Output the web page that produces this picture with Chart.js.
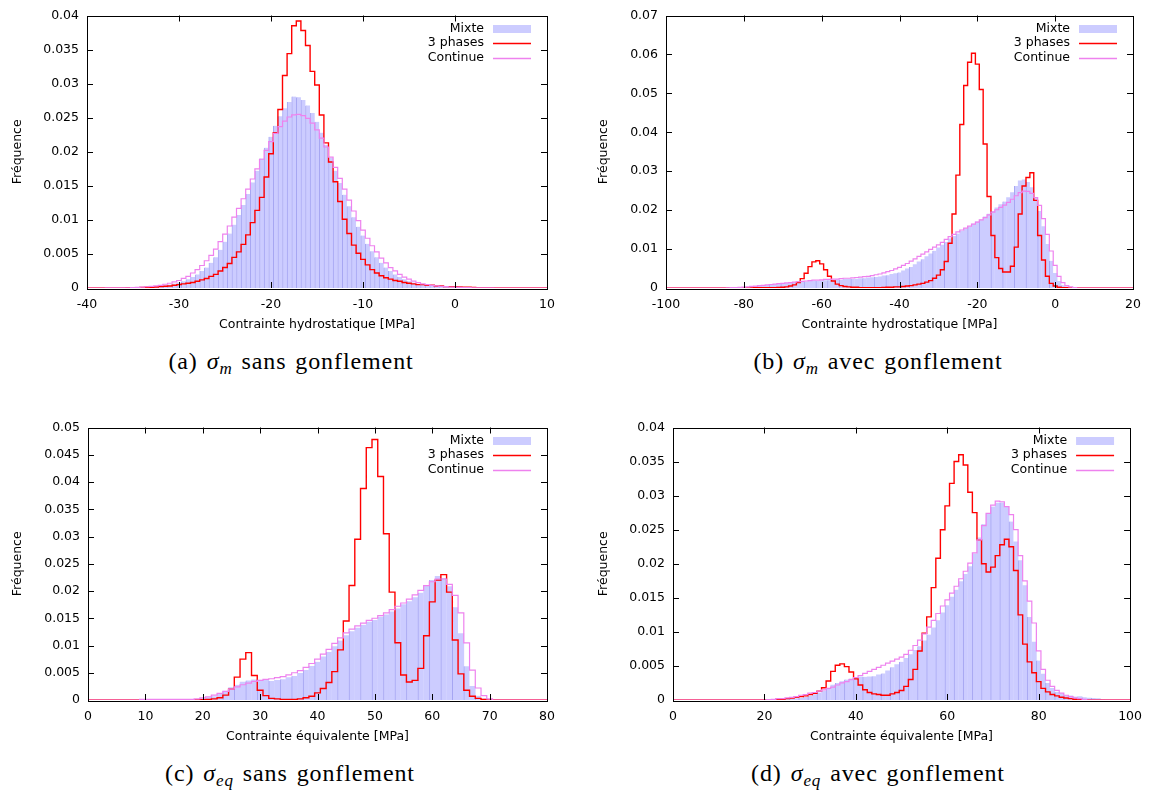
<!DOCTYPE html>
<html>
<head>
<meta charset="utf-8">
<script src="https://cdn.jsdelivr.net/npm/chart.js@4.4.1/dist/chart.umd.min.js"></script>
<style>
  body { margin: 0; background: #fff; width: 1151px; height: 793px; position: relative; overflow: hidden; }
  .panel { position: absolute; }
  .cap { position: absolute; text-align: center; font-family: "Liberation Serif", "Times New Roman", serif; font-size: 24px; letter-spacing: 0.9px; word-spacing: 2px; color: #000; white-space: nowrap; }
  .cap sub { font-size: 17px; vertical-align: -5px; line-height: 0; }
</style>
</head>
<body>
<div class="panel" style="left:0;top:0"><canvas id="chartA" width="575" height="340"></canvas></div>
<div class="panel" style="left:575px;top:0"><canvas id="chartB" width="576" height="340"></canvas></div>
<div class="panel" style="left:0;top:412px"><canvas id="chartC" width="575" height="340"></canvas></div>
<div class="panel" style="left:575px;top:412px"><canvas id="chartD" width="576" height="340"></canvas></div>

<div class="cap" style="left:0;width:582px;top:348px">(a) <i>σ<sub>m</sub></i> sans gonflement</div>
<div class="cap" style="left:578px;width:600px;top:348px">(b) <i>σ<sub>m</sub></i> avec gonflement</div>
<div class="cap" style="left:0;width:580px;top:760px">(c) <i>σ<sub>eq</sub></i> sans gonflement</div>
<div class="cap" style="left:578px;width:600px;top:760px">(d) <i>σ<sub>eq</sub></i> avec gonflement</div>

<script>
// series names and axis titles
const seriesLabels = ['Mixte', '3 phases', 'Continue'];
const yTitle = 'Fréquence';
const xTitleHydro = 'Contrainte hydrostatique [MPa]';
const xTitleEq = 'Contrainte équivalente [MPa]';

// axes: [min, max, step]
const aXAxis = [-40, 10, 10], aYAxis = [0, 0.04, 0.005];
const bXAxis = [-100, 20, 20], bYAxis = [0, 0.07, 0.01];
const cXAxis = [0, 80, 10], cYAxis = [0, 0.05, 0.005];
const dXAxis = [0, 100, 20], dYAxis = [0, 0.04, 0.005];

// (a) sigma_m sans gonflement : bins from -36 MPa, 0.5 MPa wide
const aStart = -36, aBin = 0.5;
const aMixte = [
  0.00002, 0.00003, 0.00004, 0.00007, 0.0001, 0.00015, 0.0002, 0.00025, 0.0003, 0.0004,
  0.0005, 0.00065, 0.0008, 0.001, 0.0013, 0.0016, 0.002, 0.0025, 0.003, 0.0037,
  0.0045, 0.0056, 0.0068, 0.008, 0.0093, 0.0107, 0.0122, 0.0138, 0.0155, 0.0172,
  0.019, 0.0206, 0.0222, 0.0238, 0.0252, 0.0264, 0.0273, 0.0281, 0.028, 0.0276,
  0.0268, 0.0257, 0.0244, 0.0228, 0.021, 0.0191, 0.0172, 0.0154, 0.0137, 0.012,
  0.0104, 0.009, 0.0077, 0.0065, 0.0054, 0.0045, 0.0037, 0.003, 0.0025, 0.002,
  0.0016, 0.0013, 0.001, 0.0008, 0.0006, 0.0005, 0.0004, 0.0003, 0.0003, 0.0002,
  0.0002, 0.00015, 0.0001, 0.00008, 0.00006, 0.00004, 0.00003, 0.00002, 0.00001, 0,
  0, 0, 0
];
const aPhases = [
  0.00002, 0.00003, 0.00004, 0.00005, 0.00007, 0.0001, 0.00012, 0.00015, 0.0002, 0.00025,
  0.0003, 0.0004, 0.0005, 0.0006, 0.0007, 0.0008, 0.001, 0.0012, 0.0014, 0.0017,
  0.002, 0.0025, 0.003, 0.0036, 0.0045, 0.0053, 0.0064, 0.0078, 0.0096, 0.0114,
  0.0133, 0.0163, 0.0197, 0.0228, 0.0262, 0.0312, 0.0344, 0.0385, 0.0392, 0.0378,
  0.0356, 0.0318, 0.0298, 0.0254, 0.0213, 0.0185, 0.0156, 0.0127, 0.0101, 0.008,
  0.0063, 0.0051, 0.0042, 0.0034, 0.0027, 0.0022, 0.0018, 0.0015, 0.0013, 0.0011,
  0.001, 0.0008, 0.0007, 0.0006, 0.0005, 0.0005, 0.0004, 0.0004, 0.0003, 0.0003,
  0.0002, 0.0002, 0.0002, 0.00015, 0.00012, 0.0001, 0.00008, 0.00006, 0.00005, 0.00004,
  0.00003, 0.00002, 0.00001
];
const aContinue = [
  0.00003, 0.00004, 0.00006, 0.00009, 0.00012, 0.00018, 0.00025, 0.0003, 0.0004, 0.00055,
  0.0007, 0.0009, 0.0011, 0.0014, 0.0017, 0.0022, 0.0027, 0.0033, 0.004, 0.0048,
  0.0057, 0.0068, 0.0079, 0.0091, 0.0104, 0.0117, 0.0131, 0.0145, 0.016, 0.0175,
  0.0189, 0.0202, 0.0215, 0.0227, 0.0237, 0.0245, 0.0251, 0.0254, 0.0255, 0.0253,
  0.0249, 0.0242, 0.0232, 0.022, 0.0207, 0.0192, 0.0177, 0.0161, 0.0145, 0.0129,
  0.0113, 0.0099, 0.0085, 0.0073, 0.0062, 0.0053, 0.0044, 0.0037, 0.003, 0.0025,
  0.002, 0.0016, 0.0013, 0.001, 0.0008, 0.0006, 0.0005, 0.0004, 0.0003, 0.00025,
  0.0002, 0.00015, 0.00012, 0.0001, 0.00007, 0.00005, 0.00004, 0.00003, 0.00002, 0.00001,
  0.00001, 0, 0
];

// (b) sigma_m avec gonflement : bins from -85 MPa, 1 MPa wide
const bStart = -85, bBin = 1;
const bMixte = [
  0, 0, 0, 0.00005, 0.0001, 0.0001, 0.0002, 0.0003, 0.0004, 0.0005,
  0.0006, 0.0007, 0.0008, 0.0009, 0.001, 0.0011, 0.0012, 0.0013, 0.0014, 0.0015,
  0.0016, 0.0017, 0.0017, 0.0018, 0.0018, 0.0019, 0.0019, 0.002, 0.002, 0.0021,
  0.0021, 0.0022, 0.0022, 0.0023, 0.0023, 0.0024, 0.0025, 0.0026, 0.0027, 0.0028,
  0.0029, 0.0031, 0.0033, 0.0035, 0.0037, 0.004, 0.0044, 0.0049, 0.0054, 0.006,
  0.0067, 0.0074, 0.0081, 0.0088, 0.0096, 0.0103, 0.011, 0.0118, 0.0126, 0.0133,
  0.014, 0.0146, 0.0152, 0.0158, 0.0164, 0.017, 0.0176, 0.0183, 0.019, 0.0198,
  0.0206, 0.0214, 0.0222, 0.0232, 0.0245, 0.0262, 0.0275, 0.0278, 0.0272, 0.0258,
  0.0232, 0.0198, 0.0158, 0.0112, 0.007, 0.0038, 0.0017, 0.0007, 0.0003, 0.0001,
  0.00005, 0
];
const bPhases = [
  0, 0, 0, 0, 0, 0.00002, 0.00003, 0.00004, 0.00005, 0.00006,
  0.00008, 0.0001, 0.0001, 0.0001, 0.00015, 0.0002, 0.0003, 0.0005, 0.0008, 0.0014,
  0.0024, 0.0038, 0.0055, 0.0067, 0.007, 0.0062, 0.0047, 0.003, 0.0018, 0.001,
  0.0006, 0.0004, 0.0003, 0.0002, 0.0002, 0.0001, 0.0001, 0.0001, 0.0001, 0.0001,
  0.0001, 0.00015, 0.0002, 0.0002, 0.0003, 0.0003, 0.0004, 0.0005, 0.0006, 0.0008,
  0.001, 0.0012, 0.0015, 0.0019, 0.0025, 0.0033, 0.0047, 0.0068, 0.0115, 0.019,
  0.029, 0.042, 0.052, 0.058, 0.0603, 0.0575, 0.051, 0.037, 0.0235, 0.0135,
  0.0078, 0.005, 0.0041, 0.0041, 0.0056, 0.0105, 0.019, 0.0262, 0.0284, 0.0296,
  0.0225, 0.0135, 0.0072, 0.003, 0.0012, 0.0005, 0.0002, 0.0001, 0.00005, 0,
  0, 0
];
const bContinue = [
  0, 0.00005, 0.0001, 0.0001, 0.00015, 0.0002, 0.0003, 0.0004, 0.0005, 0.0006,
  0.0007, 0.0008, 0.0009, 0.001, 0.0011, 0.0012, 0.0013, 0.0014, 0.0015, 0.0016,
  0.0017, 0.0018, 0.0019, 0.002, 0.002, 0.0021, 0.0022, 0.0022, 0.0023, 0.0023,
  0.0024, 0.0025, 0.0025, 0.0026, 0.0027, 0.0028, 0.0029, 0.003, 0.0032, 0.0034,
  0.0036, 0.0039, 0.0042, 0.0045, 0.0049, 0.0053, 0.0058, 0.0063, 0.0069, 0.0075,
  0.0081, 0.0087, 0.0093, 0.0099, 0.0105, 0.0111, 0.0117, 0.0125, 0.0132, 0.0138,
  0.0144, 0.0149, 0.0154, 0.0159, 0.0164, 0.0169, 0.0175, 0.0181, 0.0188, 0.0195,
  0.0201, 0.0207, 0.0213, 0.022, 0.0228, 0.0237, 0.0245, 0.0249, 0.0248, 0.0243,
  0.0232, 0.0212, 0.0178, 0.0138, 0.0095, 0.0058, 0.003, 0.0014, 0.0006, 0.0003,
  0.0001, 0
];

// (c) sigma_eq sans gonflement : bins from 18 MPa, 1 MPa wide
const cStart = 18, cBin = 1;
const cMixte = [
  0, 0.0001, 0.0003, 0.0005, 0.0007, 0.0011, 0.0017, 0.0023, 0.0028, 0.0033,
  0.0036, 0.0037, 0.0037, 0.0036, 0.0035, 0.0036, 0.0038, 0.0041, 0.0044, 0.0049,
  0.0055, 0.0062, 0.007, 0.0079, 0.0088, 0.0098, 0.0109, 0.0118, 0.0126, 0.0132,
  0.0138, 0.0143, 0.0147, 0.0152, 0.0157, 0.0162, 0.0168, 0.0175, 0.0181, 0.0188,
  0.0197, 0.0209, 0.022, 0.0227, 0.0224, 0.0208, 0.017, 0.0122, 0.0062, 0.0025,
  0.0008, 0.0002, 0, 0, 0
];
const cPhases = [
  0, 0, 0.00005, 0.0001, 0.0002, 0.0004, 0.0009, 0.002, 0.0042, 0.0075,
  0.0087, 0.0045, 0.0018, 0.0008, 0.0003, 0.0002, 0.0001, 0.0001, 0.0001, 0.0002,
  0.0004, 0.0007, 0.0013, 0.0021, 0.0032, 0.0052, 0.0092, 0.0145, 0.021, 0.0295,
  0.0388, 0.0463, 0.0478, 0.041, 0.0305, 0.0198, 0.0105, 0.0046, 0.0033, 0.0036,
  0.0058, 0.0118, 0.018, 0.022, 0.023, 0.0198, 0.011, 0.0048, 0.0018, 0.0007,
  0.0003, 0.0001, 0, 0, 0
];
const cContinue = [
  0.0001, 0.0002, 0.0004, 0.0006, 0.0009, 0.0012, 0.0016, 0.002, 0.0024, 0.0028,
  0.0031, 0.0034, 0.0036, 0.0038, 0.0039, 0.0041, 0.0043, 0.0046, 0.005, 0.0054,
  0.006, 0.0067, 0.0075, 0.0084, 0.0093, 0.0104, 0.0114, 0.0123, 0.013, 0.0136,
  0.0141, 0.0146, 0.015, 0.0155, 0.016, 0.0166, 0.0172, 0.0178, 0.0185, 0.0193,
  0.0201, 0.021, 0.0217, 0.0222, 0.0222, 0.0212, 0.0192, 0.016, 0.0105, 0.0055,
  0.0022, 0.0008, 0.0002, 0, 0
];

// (d) sigma_eq avec gonflement : bins from 20 MPa, 1 MPa wide
const dStart = 20, dBin = 1;
const dMixte = [
  0, 0, 0, 0.00005, 0.0001, 0.0001, 0.0002, 0.0002, 0.0003, 0.0004,
  0.0006, 0.0008, 0.0011, 0.0013, 0.0017, 0.0022, 0.0025, 0.0027, 0.003, 0.0031,
  0.0033, 0.0034, 0.0034, 0.0034, 0.0035, 0.0037, 0.0039, 0.0043, 0.0048, 0.0052,
  0.0056, 0.0061, 0.0067, 0.0073, 0.0079, 0.0087, 0.0096, 0.0106, 0.0117, 0.0128,
  0.0139, 0.0151, 0.0162, 0.0174, 0.0185, 0.0196, 0.0215, 0.0238, 0.0258, 0.0273,
  0.0284, 0.0289, 0.029, 0.0284, 0.0262, 0.0232, 0.0205, 0.0168, 0.0122, 0.0085,
  0.0058, 0.0038, 0.0025, 0.0017, 0.0012, 0.0009, 0.0007, 0.0006, 0.0005, 0.0005,
  0.0004, 0.0003, 0.0003, 0.0002, 0.0001, 0
];
const dPhases = [
  0, 0, 0.00005, 0.0001, 0.0001, 0.0002, 0.0003, 0.0004, 0.0005, 0.0006,
  0.0008, 0.001, 0.0013, 0.0018, 0.0028, 0.0042, 0.0051, 0.0053, 0.0049, 0.0041,
  0.0031, 0.0022, 0.0015, 0.0011, 0.0009, 0.0008, 0.0007, 0.0007, 0.0009, 0.0011,
  0.0014, 0.002, 0.003, 0.0045, 0.0072, 0.0098, 0.0122, 0.0165, 0.0208, 0.025,
  0.0285, 0.0318, 0.035, 0.036, 0.0345, 0.0305, 0.0275, 0.0235, 0.02, 0.0188,
  0.0195, 0.0212, 0.0228, 0.0236, 0.0225, 0.019, 0.0125, 0.0082, 0.0056, 0.004,
  0.0027, 0.0017, 0.0012, 0.0008, 0.0006, 0.0004, 0.0003, 0.0002, 0.0001, 0.00005,
  0, 0, 0, 0, 0, 0
];
const dContinue = [
  0, 0.00005, 0.0001, 0.0002, 0.0002, 0.0003, 0.0004, 0.0005, 0.0007, 0.0008,
  0.001, 0.0011, 0.0013, 0.0015, 0.0017, 0.0019, 0.0022, 0.0025, 0.0027, 0.003,
  0.0033, 0.0036, 0.0039, 0.0042, 0.0045, 0.0048, 0.0051, 0.0054, 0.0057, 0.006,
  0.0063, 0.0067, 0.0073, 0.008, 0.0088, 0.0097, 0.0107, 0.0117, 0.0127, 0.0138,
  0.0147, 0.0157, 0.0167, 0.0178, 0.0189, 0.0201, 0.0216, 0.0235, 0.0256, 0.0274,
  0.0286, 0.0292, 0.0291, 0.0284, 0.0272, 0.025, 0.0212, 0.0175, 0.0145, 0.0113,
  0.0072, 0.0045, 0.0029, 0.002, 0.0014, 0.001, 0.0007, 0.0005, 0.0003, 0.0002,
  0.0001, 0, 0, 0, 0, 0
];

const MIX_FILL = 'rgb(204,204,255)';
const MIX_EDGE = 'rgb(166,166,242)';
const RED = '#ff0000';
const VIOLET = '#ee82ee';
const keyColors = [MIX_FILL, RED, VIOLET];
const keyWidths = [0, 1.4, 1.4];

Chart.defaults.font.family = '"DejaVu Sans", sans-serif';
Chart.defaults.font.size = 12.5;
Chart.defaults.color = '#000';

function toBins(start, width, values) {
  return values.map((v, i) => ({ x: start + i * width, y: v }));
}

// gnuplot draws the step curves along zero over the whole range
function withBaseline(points, xAxis) {
  return [{ x: xAxis[0], y: 0 }, ...points, { x: xAxis[1], y: 0 }];
}

function fmtY(v) {
  return String(Math.round(v * 10000) / 10000);
}

// box border, inward ticks on all four sides, and the key in the top right corner
const gnuplotFrame = {
  id: 'gnuplotFrame',
  afterDatasetsDraw(chart) {
    const { ctx, chartArea: a, scales: { x, y } } = chart;
    const tick = 6;
    ctx.save();
    ctx.strokeStyle = '#000';
    ctx.lineWidth = 1;
    ctx.beginPath();
    x.ticks.forEach(t => {
      const px = Math.round(x.getPixelForValue(t.value)) + 0.5;
      if (px < a.left + 2 || px > a.right - 2) return;
      ctx.moveTo(px, a.bottom); ctx.lineTo(px, a.bottom - tick);
      ctx.moveTo(px, a.top); ctx.lineTo(px, a.top + tick);
    });
    y.ticks.forEach(t => {
      const py = Math.round(y.getPixelForValue(t.value)) + 0.5;
      if (py < a.top + 2 || py > a.bottom - 2) return;
      ctx.moveTo(a.left, py); ctx.lineTo(a.left + tick, py);
      ctx.moveTo(a.right, py); ctx.lineTo(a.right - tick, py);
    });
    ctx.stroke();
    ctx.strokeRect(Math.round(a.left) + 0.5, Math.round(a.top) + 0.5,
                   Math.round(a.right - a.left), Math.round(a.bottom - a.top));

    // key
    ctx.font = '12.5px "DejaVu Sans", sans-serif';
    ctx.textAlign = 'right';
    ctx.textBaseline = 'middle';
    seriesLabels.forEach((label, i) => {
      const ry = Math.round(a.top + 13 + i * 14.5);
      ctx.fillStyle = '#000';
      ctx.fillText(label, a.right - 63, ry);
      if (i === 0) {
        ctx.fillStyle = keyColors[0];
        ctx.fillRect(a.right - 54, ry - 4, 38, 8);
      } else {
        ctx.strokeStyle = keyColors[i];
        ctx.lineWidth = keyWidths[i];
        ctx.beginPath();
        ctx.moveTo(a.right - 54, ry + 0.5);
        ctx.lineTo(a.right - 16, ry + 0.5);
        ctx.stroke();
      }
    });
    ctx.restore();
  }
};

function drawPanel(canvasId, p) {
  new Chart(document.getElementById(canvasId), {
    type: 'bar',
    data: {
      datasets: [
        {
          type: 'bar',
          label: seriesLabels[0],
          data: toBins(p.start, p.bin, p.mixte),
          backgroundColor: MIX_FILL,
          borderColor: MIX_EDGE,
          borderWidth: c => (c.dataIndex % p.every === 0 ? { left: 1, right: 0, top: 0, bottom: 0 } : 0),
          borderSkipped: false,
          barPercentage: 1,
          categoryPercentage: 1,
          order: 3
        },
        {
          type: 'line',
          label: seriesLabels[1],
          data: withBaseline(toBins(p.start, p.bin, p.phases), p.xAxis),
          borderColor: RED,
          borderWidth: 1.4,
          stepped: 'middle',
          pointRadius: 0,
          fill: false,
          order: 2
        },
        {
          type: 'line',
          label: seriesLabels[2],
          data: withBaseline(toBins(p.start, p.bin, p.cont), p.xAxis),
          borderColor: VIOLET,
          borderWidth: 1.2,
          stepped: 'middle',
          pointRadius: 0,
          fill: false,
          order: 1
        }
      ]
    },
    options: {
      responsive: false,
      animation: false,
      devicePixelRatio: 1,
      layout: { padding: { top: 11, right: p.padRight, left: 0, bottom: 0 } },
      plugins: { legend: { display: false }, tooltip: { enabled: false } },
      scales: {
        x: {
          type: 'linear',
          min: p.xAxis[0],
          max: p.xAxis[1],
          offset: false,
          grid: { display: false, drawTicks: false },
          border: { display: false },
          ticks: { stepSize: p.xAxis[2], padding: 9, maxRotation: 0, autoSkip: false, callback: v => v },
          title: { display: true, text: p.xTitle, padding: { top: 0, bottom: 8 } },
          afterFit: s => { s.height = 52; }
        },
        y: {
          min: p.yAxis[0],
          max: p.yAxis[1],
          grid: { display: false, drawTicks: false },
          border: { display: false },
          ticks: { stepSize: p.yAxis[2], padding: 8, autoSkip: false, callback: fmtY },
          title: { display: true, text: yTitle, padding: { top: p.yTitlePad, bottom: 0 } },
          afterFit: s => { s.width = p.yWidth; }
        }
      }
    },
    plugins: [gnuplotFrame]
  });
}

drawPanel('chartA', { start: aStart, bin: aBin, mixte: aMixte, phases: aPhases, cont: aContinue,
  xAxis: aXAxis, yAxis: aYAxis, xTitle: xTitleHydro, yWidth: 87, padRight: 28, yTitlePad: 10, every: 1 });
drawPanel('chartB', { start: bStart, bin: bBin, mixte: bMixte, phases: bPhases, cont: bContinue,
  xAxis: bXAxis, yAxis: bYAxis, xTitle: xTitleHydro, yWidth: 91, padRight: 18, yTitlePad: 21, every: 3 });
drawPanel('chartC', { start: cStart, bin: cBin, mixte: cMixte, phases: cPhases, cont: cContinue,
  xAxis: cXAxis, yAxis: cYAxis, xTitle: xTitleEq, yWidth: 88, padRight: 28, yTitlePad: 10, every: 2 });
drawPanel('chartD', { start: dStart, bin: dBin, mixte: dMixte, phases: dPhases, cont: dContinue,
  xAxis: dXAxis, yAxis: dYAxis, xTitle: xTitleEq, yWidth: 98, padRight: 18, yTitlePad: 21, every: 2 });
</script>
</body>
</html>
